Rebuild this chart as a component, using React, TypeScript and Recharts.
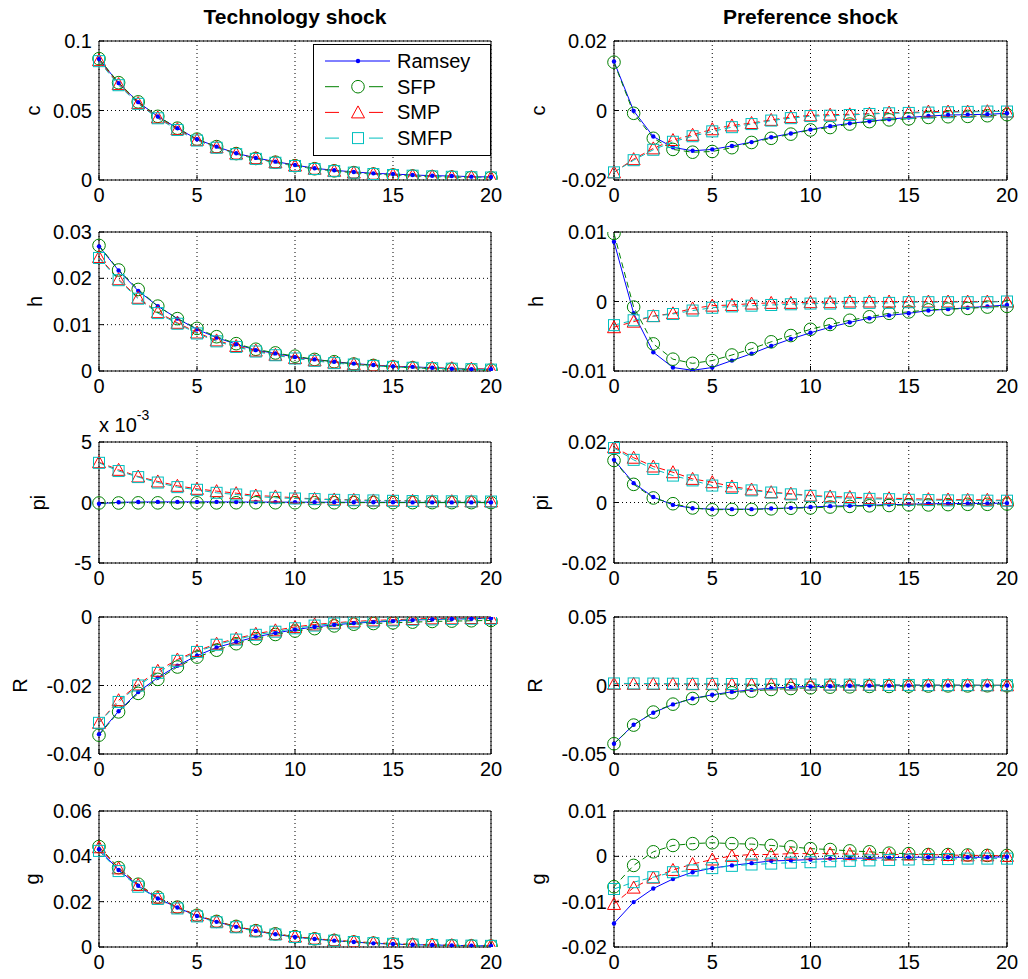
import React from 'react';
import {
    CartesianGrid,
    Legend,
    Line,
    LineChart,
    ReferenceArea,
    XAxis,
    YAxis
} from 'recharts';

const FONT = '"Liberation Sans", Arial, Helvetica, sans-serif';

const periods = [0, 1, 2, 3, 4, 5, 6, 7, 8, 9, 10, 11, 12, 13, 14, 15, 16, 17, 18, 19, 20];
const xTicks = [0, 5, 10, 15, 20];

// Technology shock
const techC_Ramsey = [0.087, 0.0697, 0.056, 0.0457, 0.0373, 0.0293, 0.024, 0.0192, 0.0159, 0.0132, 0.0108, 0.0084, 0.007, 0.0058, 0.0048, 0.0043, 0.0036, 0.0031, 0.0029, 0.0024, 0.0022];
const techC_SFP = [0.0873, 0.07, 0.0562, 0.0458, 0.0373, 0.0294, 0.024, 0.019, 0.0155, 0.0128, 0.0103, 0.0081, 0.0066, 0.0053, 0.0043, 0.0036, 0.0029, 0.0024, 0.0021, 0.0018, 0.0016];
const techC_SMP = [0.0862, 0.069, 0.0553, 0.045, 0.0366, 0.0289, 0.0236, 0.019, 0.0157, 0.0128, 0.0104, 0.0081, 0.0066, 0.0054, 0.0045, 0.0038, 0.0032, 0.0027, 0.0024, 0.0021, 0.0019];
const techC_SMFP = [0.0855, 0.0682, 0.0548, 0.0444, 0.036, 0.0284, 0.0232, 0.0186, 0.0152, 0.0124, 0.0101, 0.0079, 0.0064, 0.0053, 0.0043, 0.0036, 0.0031, 0.0026, 0.0023, 0.002, 0.0018];

const techH_Ramsey = [0.0269, 0.0217, 0.0173, 0.014, 0.0113, 0.009, 0.0072, 0.0058, 0.0045, 0.0038, 0.003, 0.0025, 0.002, 0.0016, 0.0013, 0.001, 0.0009, 0.0007, 0.0005, 0.0004, 0.0004];
const techH_SFP = [0.0271, 0.0218, 0.0176, 0.014, 0.0113, 0.0092, 0.0074, 0.0059, 0.0047, 0.0039, 0.0032, 0.0025, 0.002, 0.0015, 0.0012, 0.0009, 0.0007, 0.0005, 0.0004, 0.0003, 0.0002];
const techH_SMP = [0.0246, 0.0198, 0.0158, 0.0127, 0.0104, 0.0083, 0.0066, 0.0054, 0.0044, 0.0035, 0.0028, 0.0023, 0.0018, 0.0015, 0.0012, 0.001, 0.0008, 0.0007, 0.0006, 0.0005, 0.0004];
const techH_SMFP = [0.0244, 0.0196, 0.0156, 0.0125, 0.0102, 0.0081, 0.0064, 0.0052, 0.0042, 0.0034, 0.0027, 0.0022, 0.0017, 0.0014, 0.0011, 0.0009, 0.0007, 0.0006, 0.0005, 0.0004, 0.0003];

const techPi_Ramsey = [-0.0001, 0.00002, 0.00004, 0.00005, 0.00005, 0.00005, 0.00005, 0.00004, 0.00004, 0.00003, 0.00003, 0.00003, 0.00002, 0.00002, 0.00002, 0.00002, 0.00001, 0.00001, 0.00001, 0.00001, 0.00001];
const techPi_SFP = [-0.00004, -0.00004, -0.00003, -0.00003, -0.00003, -0.00003, -0.00003, -0.00002, -0.00002, -0.00002, -0.00002, -0.00002, -0.00002, -0.00001, -0.00001, -0.00001, -0.00001, -0.00001, -0.00001, -0.00001, -0.00001];
const techPi_SMP = [0.00333, 0.0027, 0.00215, 0.00174, 0.00138, 0.00113, 0.00094, 0.00077, 0.00058, 0.0005, 0.00039, 0.0003, 0.00025, 0.00022, 0.00017, 0.00017, 0.00014, 0.00011, 0.00011, 0.0001, 0.0001];
const techPi_SMFP = [0.00328, 0.0026, 0.0021, 0.00165, 0.00127, 0.00105, 0.0008, 0.00066, 0.0005, 0.00039, 0.00033, 0.00028, 0.00022, 0.00019, 0.00017, 0.00014, 0.00012, 0.0001, 0.0001, 0.00009, 0.00008];

const techR_Ramsey = [-0.0342, -0.0275, -0.0219, -0.0177, -0.0142, -0.0113, -0.0089, -0.0073, -0.0058, -0.0047, -0.0037, -0.0029, -0.0023, -0.0018, -0.0015, -0.0012, -0.0009, -0.0007, -0.0006, -0.0005, -0.0004];
const techR_SFP = [-0.0345, -0.0277, -0.0223, -0.0182, -0.0146, -0.0117, -0.0097, -0.0078, -0.0063, -0.0051, -0.0041, -0.0034, -0.0026, -0.0021, -0.0019, -0.0017, -0.0015, -0.0013, -0.0012, -0.0011, -0.001];
const techR_SMP = [-0.0309, -0.0243, -0.0197, -0.0157, -0.0124, -0.0099, -0.0078, -0.0063, -0.0049, -0.0039, -0.0029, -0.0022, -0.0017, -0.0013, -0.001, -0.0008, -0.0006, -0.0004, -0.0004, -0.0003, -0.0003];
const techR_SMFP = [-0.0309, -0.0248, -0.02, -0.0163, -0.0128, -0.0102, -0.0081, -0.0066, -0.0052, -0.0043, -0.0033, -0.0025, -0.0019, -0.0016, -0.0013, -0.001, -0.0008, -0.0007, -0.0006, -0.0005, -0.0005];

const techG_Ramsey = [0.0431, 0.034, 0.027, 0.0214, 0.0174, 0.0137, 0.0111, 0.0089, 0.0071, 0.0056, 0.0044, 0.0035, 0.0028, 0.0022, 0.0016, 0.0013, 0.001, 0.0009, 0.0007, 0.0006, 0.0005];
const techG_SFP = [0.0443, 0.035, 0.0277, 0.022, 0.0176, 0.014, 0.0113, 0.0091, 0.0072, 0.0058, 0.0046, 0.0036, 0.0029, 0.0022, 0.0017, 0.0013, 0.001, 0.0008, 0.0006, 0.0005, 0.0004];
const techG_SMP = [0.044, 0.0347, 0.0274, 0.0218, 0.0175, 0.0139, 0.0112, 0.009, 0.0072, 0.0057, 0.0046, 0.0037, 0.003, 0.0024, 0.0019, 0.0015, 0.0012, 0.001, 0.0008, 0.0007, 0.0006];
const techG_SMFP = [0.0424, 0.0335, 0.0266, 0.0212, 0.017, 0.0135, 0.0109, 0.0087, 0.0069, 0.0055, 0.0044, 0.0035, 0.0028, 0.0022, 0.0017, 0.0014, 0.0011, 0.0009, 0.0007, 0.0006, 0.0005];

// Preference shock
const prefC_Ramsey = [0.0141, -0.0001, -0.0075, -0.0106, -0.0116, -0.0112, -0.0102, -0.0091, -0.0077, -0.0066, -0.0055, -0.0045, -0.0037, -0.0031, -0.0025, -0.002, -0.0016, -0.0013, -0.0012, -0.0011, -0.0008];
const prefC_SFP = [0.0139, -0.0008, -0.008, -0.0112, -0.012, -0.0118, -0.0107, -0.0092, -0.008, -0.0068, -0.0056, -0.0049, -0.0039, -0.0032, -0.0027, -0.0024, -0.002, -0.0018, -0.0017, -0.0015, -0.0012];
const prefC_SMP = [-0.0178, -0.014, -0.0109, -0.0085, -0.007, -0.0054, -0.0043, -0.0036, -0.0027, -0.0019, -0.0014, -0.0012, -0.0011, -0.0009, -0.0006, -0.0006, -0.0003, -0.0003, -0.0003, -0.0002, -0.0003];
const prefC_SMFP = [-0.0178, -0.0143, -0.0113, -0.009, -0.0074, -0.006, -0.0048, -0.0039, -0.0029, -0.0022, -0.0016, -0.0015, -0.0013, -0.001, -0.0008, -0.0007, -0.0006, -0.0005, -0.0004, -0.0003, -0.0003];

const prefH_Ramsey = [0.0086, -0.0017, -0.0073, -0.0095, -0.0099, -0.0095, -0.0085, -0.0075, -0.0064, -0.0054, -0.0045, -0.0037, -0.003, -0.0024, -0.002, -0.0017, -0.0013, -0.0011, -0.0009, -0.0007, -0.0005];
const prefH_SFP = [0.0098, -0.0008, -0.0061, -0.0083, -0.0089, -0.0085, -0.0077, -0.0068, -0.0058, -0.0049, -0.004, -0.0033, -0.0027, -0.0022, -0.0017, -0.0015, -0.0012, -0.0011, -0.001, -0.0008, -0.0007];
const prefH_SMP = [-0.0037, -0.0029, -0.0021, -0.0017, -0.001, -0.0006, -0.0005, -0.0003, -0.0002, -0.0002, -0.0001, -0.0001, 0, 0, 0, 0, 0, 0, 0, 0, 0];
const prefH_SMFP = [-0.0034, -0.0027, -0.0021, -0.0018, -0.0013, -0.0009, -0.0007, -0.0006, -0.0005, -0.0004, -0.0003, -0.0003, -0.0002, -0.0002, -0.0002, -0.0001, -0.0001, -0.0001, -0.0001, -0.0001, 0];

const prefPi_Ramsey = [0.0141, 0.0064, 0.0018, -0.0008, -0.0019, -0.0022, -0.0022, -0.0022, -0.002, -0.0018, -0.0015, -0.0012, -0.0011, -0.0009, -0.0007, -0.0006, -0.0004, -0.0004, -0.0003, -0.0003, -0.0002];
const prefPi_SFP = [0.0139, 0.006, 0.0015, -0.0004, -0.0018, -0.0024, -0.0023, -0.0023, -0.0021, -0.0019, -0.0018, -0.0015, -0.0013, -0.0011, -0.001, -0.0008, -0.0008, -0.0007, -0.0006, -0.0006, -0.0005];
const prefPi_SMP = [0.0183, 0.0148, 0.0119, 0.01, 0.0078, 0.0067, 0.0053, 0.0043, 0.0034, 0.0029, 0.0023, 0.002, 0.0018, 0.0015, 0.0014, 0.0013, 0.0011, 0.001, 0.0009, 0.0009, 0.0007];
const prefPi_SMFP = [0.018, 0.0141, 0.0111, 0.0089, 0.0073, 0.0056, 0.0048, 0.004, 0.0033, 0.0027, 0.0022, 0.0017, 0.0014, 0.0012, 0.0011, 0.0009, 0.0008, 0.0007, 0.0007, 0.0006, 0.0006];

const prefR_Ramsey = [-0.0425, -0.0286, -0.0199, -0.0138, -0.0095, -0.0068, -0.0046, -0.0032, -0.0019, -0.0012, -0.0007, -0.0005, -0.0002, -0.0001, -0.0001, 0, 0, 0, 0, 0, 0];
const prefR_SFP = [-0.0425, -0.0289, -0.0194, -0.0136, -0.0095, -0.0073, -0.0053, -0.0041, -0.0029, -0.0022, -0.0017, -0.0012, -0.001, -0.0007, -0.0007, -0.0005, -0.0004, -0.0003, -0.0003, -0.0002, -0.0002];
const prefR_SMP = [0.0012, 0.0012, 0.0011, 0.0011, 0.001, 0.001, 0.0009, 0.0008, 0.0008, 0.0007, 0.0006, 0.0006, 0.0005, 0.0005, 0.0004, 0.0004, 0.0003, 0.0003, 0.0003, 0.0002, 0.0002];
const prefR_SMFP = [0.0015, 0.0015, 0.0014, 0.0013, 0.0012, 0.0012, 0.0011, 0.001, 0.0009, 0.0008, 0.0007, 0.0006, 0.0006, 0.0005, 0.0004, 0.0004, 0.0003, 0.0003, 0.0003, 0.0002, 0.0002];

const prefG_Ramsey = [-0.0148, -0.0101, -0.0071, -0.005, -0.0035, -0.0026, -0.002, -0.0015, -0.001, -0.0009, -0.0007, -0.0005, -0.0004, -0.0004, -0.0003, -0.0002, -0.0002, -0.0002, -0.0002, -0.0002, -0.0001];
const prefG_SFP = [-0.0067, -0.002, 0.001, 0.0024, 0.0028, 0.003, 0.0028, 0.0027, 0.0024, 0.0021, 0.0017, 0.0015, 0.0012, 0.001, 0.0007, 0.0006, 0.0004, 0.0004, 0.0003, 0.0002, 0.0002];
const prefG_SMP = [-0.0105, -0.0069, -0.0047, -0.003, -0.0017, -0.0007, 0.0001, 0.0004, 0.0004, 0.0006, 0.0006, 0.0006, 0.0005, 0.0005, 0.0004, 0.0004, 0.0004, 0.0003, 0.0002, 0.0002, 0.0001];
const prefG_SMFP = [-0.0072, -0.0057, -0.0046, -0.0035, -0.0031, -0.0026, -0.0021, -0.0018, -0.0016, -0.0014, -0.0013, -0.0011, -0.001, -0.0009, -0.0008, -0.0007, -0.0006, -0.0006, -0.0005, -0.0005, -0.0005];

// series look (MATLAB default colour order)
const seriesStyles = [
    { key: 'ramsey', name: 'Ramsey', color: '#0000ff', dash: undefined, marker: 'dot' },
    { key: 'sfp', name: 'SFP', color: '#008000', dash: '6 4', marker: 'circle' },
    { key: 'smp', name: 'SMP', color: '#ff0000', dash: '6 4', marker: 'triangle' },
    { key: 'smfp', name: 'SMFP', color: '#00bfbf', dash: '6 4', marker: 'square' },
];

// layout of the 5x2 grid of axes
const colLeft = [0, 514];
const yAxisW = [99, 100];
const plotW = [392, 393];
const rowTop = [41, 232, 442, 617, 811];
const rowH = [139, 139, 121, 137, 136];

const panels = [
    { row: 0, col: 0, yLabel: 'c', labelX: 33, title: 'Technology shock', legend: true, domain: [0, 0.1], ticks: [0, 0.05, 0.1], series: [techC_Ramsey, techC_SFP, techC_SMP, techC_SMFP] },
    { row: 0, col: 1, yLabel: 'c', labelX: 24, title: 'Preference shock', domain: [-0.02, 0.02], ticks: [-0.02, 0, 0.02], series: [prefC_Ramsey, prefC_SFP, prefC_SMP, prefC_SMFP] },
    { row: 1, col: 0, yLabel: 'h', labelX: 35, domain: [0, 0.03], ticks: [0, 0.01, 0.02, 0.03], series: [techH_Ramsey, techH_SFP, techH_SMP, techH_SMFP] },
    { row: 1, col: 1, yLabel: 'h', labelX: 22, domain: [-0.01, 0.01], ticks: [-0.01, 0, 0.01], series: [prefH_Ramsey, prefH_SFP, prefH_SMP, prefH_SMFP] },
    { row: 2, col: 0, yLabel: 'pi', labelX: 38, exponent: true, domain: [-0.005, 0.005], ticks: [-0.005, 0, 0.005], series: [techPi_Ramsey, techPi_SFP, techPi_SMP, techPi_SMFP] },
    { row: 2, col: 1, yLabel: 'pi', labelX: 27, domain: [-0.02, 0.02], ticks: [-0.02, 0, 0.02], series: [prefPi_Ramsey, prefPi_SFP, prefPi_SMP, prefPi_SMFP] },
    { row: 3, col: 0, yLabel: 'R', labelX: 20, domain: [-0.04, 0], ticks: [-0.04, -0.02, 0], series: [techR_Ramsey, techR_SFP, techR_SMP, techR_SMFP] },
    { row: 3, col: 1, yLabel: 'R', labelX: 21, domain: [-0.05, 0.05], ticks: [-0.05, 0, 0.05], series: [prefR_Ramsey, prefR_SFP, prefR_SMP, prefR_SMFP] },
    { row: 4, col: 0, yLabel: 'g', labelX: 32, domain: [0, 0.06], ticks: [0, 0.02, 0.04, 0.06], series: [techG_Ramsey, techG_SFP, techG_SMP, techG_SMFP] },
    { row: 4, col: 1, yLabel: 'g', labelX: 24, domain: [-0.02, 0.01], ticks: [-0.02, -0.01, 0, 0.01], series: [prefG_Ramsey, prefG_SFP, prefG_SMP, prefG_SMFP] },
];

const Marker = ({ kind, cx, cy, color }: { kind: string; cx: number; cy: number; color: string }) => {
    if (kind === 'dot') return <circle cx={cx} cy={cy} r={2.2} fill={color} stroke="none" />;
    if (kind === 'circle') return <circle cx={cx} cy={cy} r={6.3} fill="none" stroke={color} strokeWidth={1} />;
    if (kind === 'triangle')
        return (
            <polygon
                points={`${cx},${cy - 6.5} ${cx + 6.5},${cy + 5.5} ${cx - 6.5},${cy + 5.5}`}
                fill="none"
                stroke={color}
                strokeWidth={1}
            />
        );
    return <rect x={cx - 5.5} y={cy - 5.5} width={11} height={11} fill="none" stroke={color} strokeWidth={1} />;
};

const LegendBox = () => (
    <svg width={178} height={112} style={{ display: 'block' }}>
        <rect x={0.5} y={0.5} width={177} height={111} fill="#fff" stroke="#000" strokeWidth={1} />
        {seriesStyles.map((s, i) => {
            const y = 17 + i * 25.7;
            return (
                <g key={s.key}>
                    <line x1={12} x2={77} y1={y} y2={y} stroke={s.color} strokeWidth={1} strokeDasharray={s.dash ? '14 30' : undefined} />
                    <Marker kind={s.marker} cx={45} cy={y} color={s.color} />
                    <text x={84} y={y + 7} fontSize={20} fontFamily={FONT} fill="#000">{s.name}</text>
                </g>
            );
        })}
    </svg>
);

const Panel = ({ cfg }: { cfg: any }) => {
    const mTop = cfg.title ? 41 : cfg.exponent ? 40 : 10;
    const yw = yAxisW[cfg.col];
    const pw = plotW[cfg.col];
    const ph = rowH[cfg.row];
    const width = yw + pw + 20;
    const height = mTop + ph + 30;
    const data = periods.map((t, i) => ({
        t,
        ramsey: cfg.series[0][i],
        sfp: cfg.series[1][i],
        smp: cfg.series[2][i],
        smfp: cfg.series[3][i],
    }));

    const yLabel = () => (
        <text
            x={cfg.labelX}
            y={mTop + ph / 2}
            transform={`rotate(-90, ${cfg.labelX}, ${mTop + ph / 2})`}
            textAnchor="middle"
            dominantBaseline="central"
            fontSize={20}
            fontFamily={FONT}
            fill="#000"
        >
            {cfg.yLabel}
        </text>
    );

    const topText = () => {
        if (cfg.title)
            return (
                <text x={yw + pw / 2} y={24} textAnchor="middle" fontSize={21} fontWeight="bold" fontFamily={FONT} fill="#000">
                    {cfg.title}
                </text>
            );
        if (cfg.exponent)
            return (
                <text x={yw} y={30} fontSize={20} fontFamily={FONT} fill="#000">
                    x 10
                    <tspan fontSize={14} dy={-12}>-3</tspan>
                </text>
            );
        return <g />;
    };

    return (
        <div style={{ position: 'absolute', left: colLeft[cfg.col], top: rowTop[cfg.row] - mTop, width, height }}>
            <LineChart width={width} height={height} data={data} margin={{ top: mTop, right: 20, bottom: 0, left: 0 }}>
                <CartesianGrid stroke="#000" strokeDasharray="1 3" strokeWidth={1} />
                <XAxis
                    dataKey="t"
                    type="number"
                    domain={[0, 20]}
                    ticks={xTicks}
                    interval={0}
                    height={30}
                    axisLine={false}
                    tickLine={{ stroke: '#000' }}
                    tickSize={-5}
                    tickMargin={13}
                    tick={{ fill: '#000', fontSize: 20, fontFamily: FONT }}
                    label={topText}
                />
                <YAxis
                    type="number"
                    domain={cfg.domain}
                    ticks={cfg.ticks}
                    interval={0}
                    width={yw}
                    allowDataOverflow
                    axisLine={false}
                    tickLine={{ stroke: '#000' }}
                    tickSize={-5}
                    tickMargin={12}
                    tick={{ fill: '#000', fontSize: 20, fontFamily: FONT }}
                    tickFormatter={(v: number) => (cfg.exponent ? String(Math.round(v * 1000)) : String(v))}
                    label={yLabel}
                />
                <ReferenceArea x1={0} x2={20} y1={cfg.domain[0]} y2={cfg.domain[1]} fill="none" fillOpacity={0} stroke="#000" strokeWidth={1} />
                {seriesStyles.map((s) => (
                    <Line
                        key={s.key}
                        dataKey={s.key}
                        name={s.name}
                        type="linear"
                        stroke={s.color}
                        strokeWidth={1}
                        strokeDasharray={s.dash}
                        isAnimationActive={false}
                        activeDot={false}
                        dot={(p: any) => (
                            <g key={`${s.key}-${p.index}`}>
                                <Marker kind={s.marker} cx={p.cx} cy={p.cy} color={s.color} />
                            </g>
                        )}
                    />
                ))}
                {cfg.legend && (
                    <Legend
                        layout="vertical"
                        align="center"
                        verticalAlign="middle"
                        content={() => <LegendBox />}
                        wrapperStyle={{ position: 'absolute', left: 313, top: 44, width: 178, height: 112, margin: 0, padding: 0 }}
                    />
                )}
            </LineChart>
        </div>
    );
};

export default function App() {
    return (
        <div style={{ position: 'absolute', left: 0, top: 0, width: 1028, height: 979, background: '#fff', fontFamily: FONT, overflow: 'hidden' }}>
            {panels.map((cfg, i) => (
                <Panel key={i} cfg={cfg} />
            ))}
        </div>
    );
}
